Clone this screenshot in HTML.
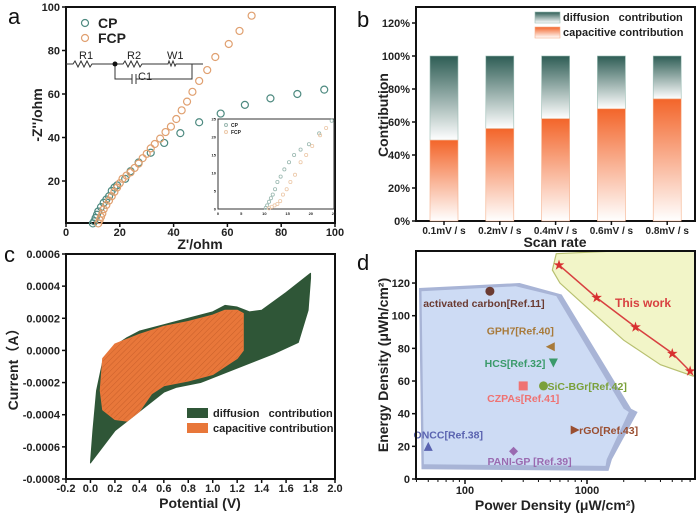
<!DOCTYPE html>
<html><head><meta charset="utf-8">
<style>
html,body{margin:0;padding:0;background:#fff;}
svg{display:block;font-family:"Liberation Sans",Arial,sans-serif;}
.tk{font-size:11px;font-weight:bold;fill:#222;}
.ttl{font-size:14px;font-weight:bold;fill:#222;}
.pl{font-size:22px;fill:#111;}
</style></head>
<body>
<svg id="fig" width="700" height="515" viewBox="0 0 700 515">
<defs>
<linearGradient id="gDiff" x1="0" y1="0" x2="0" y2="1"><stop offset="0" stop-color="#2e5d55"/><stop offset="1" stop-color="#ffffff"/></linearGradient>
<linearGradient id="gCap" x1="0" y1="0" x2="0" y2="1"><stop offset="0" stop-color="#f3652a"/><stop offset="1" stop-color="#ffffff"/></linearGradient>
<pattern id="hatch" width="4" height="4" patternUnits="userSpaceOnUse" patternTransform="rotate(45)"><rect width="4" height="4" fill="#e8773a"/><line x1="0" y1="0" x2="0" y2="4" stroke="#c9602a" stroke-width="1"/></pattern>
<clipPath id="clipD"><rect x="416" y="251" width="279" height="228"/></clipPath>
</defs>
<g id="pa"></g>
<g id="pb"></g>
<g id="pc"></g>
<g id="pd"></g>
</svg>
<script>
// ---------- Panel a data ----------
const cpX=[10,10.5,11,11.5,12,13,14,15,16,17,18,19,22,24,27,31.5,36.5,42.5,49.5,57.5,66.5,76,86,96];
const cpY=[0.5,1.5,3,4.5,6,8,10,11.5,13,15.5,17,18,21,24.5,28.5,33,37.5,42,47,51,55,58,60,62];
const fcpX=[12,12.5,13,13.5,14,15,16,17,18,19,20,21,22.5,24,25.5,27,28.5,30,31.5,33,35,37,39,41,43,45,47,49.5,52.5,55.5,60.5,64.5,69];
const fcpY=[0.5,2,3.5,5,7,9,11,13,15,17,19,21,22.5,24,26,28,30.5,32.5,35,37,39.5,42.5,45,48.5,52.5,56.5,61,66,71,77,83,89,96];
const aTicksX=[0,20,40,60,80,100];
const aTicksY=[20,40,60,80,100];
const insetCpX=[10.3,10.6,11,11.4,11.8,12.3,12.8,13.5,14.3,15.3,16.4,17.8,19.6,21.8,24.5];
const insetCpY=[0.3,1,2,3,4,5.5,7.5,9,11,13,15,16.5,18,21,24.5];
const insetFcpX=[11,11.6,12.2,12.8,13.4,14,14.8,15.6,16.6,17.8,19,20.3,22,23.3];
const insetFcpY=[0.2,0.6,1,1.4,2.2,4,5.5,7.5,9.5,13,15,17.5,20.5,22.5];
// ---------- Panel b data ----------
const bCats=["0.1mV / s","0.2mV / s","0.4mV / s","0.6mV / s","0.8mV / s"];
const bCap=[49,56,62,68,74];
const bTicks=[0,20,40,60,80,100,120];
// ---------- Panel c data ----------
const cvOuterV=[0,0.02,0.05,0.1,0.2,0.3,0.4,0.6,0.8,1.0,1.1,1.2,1.3,1.4,1.6,1.8,1.8,1.78,1.7,1.5,1.3,1.1,0.9,0.7,0.6,0.4,0.2,0];
const cvOuterI=[-7.0,-5,-2.5,-0.7,0.3,0.8,1.2,1.6,2.0,2.4,2.8,2.7,2.4,2.5,3.6,4.8,4.5,2.5,0.5,-0.2,-0.8,-1.4,-2.0,-2.3,-2.6,-3.8,-5.0,-7.0];
const cvCapV=[0.1,0.2,0.4,0.6,0.8,1.0,1.1,1.2,1.25,1.25,1.2,1.0,0.8,0.6,0.5,0.4,0.3,0.2,0.1,0.08,0.1];
const cvCapI=[-0.5,0.4,1.0,1.5,1.8,2.2,2.5,2.5,2.3,0,-0.5,-1.5,-1.9,-2.2,-2.7,-3.8,-4.4,-4.3,-3.7,-2.5,-0.5];
const cTicksX=[-0.2,0.0,0.2,0.4,0.6,0.8,1.0,1.2,1.4,1.6,1.8,2.0];
const cTicksY=[0.0006,0.0004,0.0002,0.0000,-0.0002,-0.0004,-0.0006,-0.0008];
// ---------- Panel d data ----------
const dNames=["activated carbon[Ref.11]","GPH7[Ref.40]","HCS[Ref.32]","CZPAs[Ref.41]","SiC-BGr[Ref.42]","ONCC[Ref.38]","PANI-GP [Ref.39]","rGO[Ref.43]"];
const dPower=[160,500,530,300,440,50,250,800];
const dEnergy=[115,81,71,57,57,20,17,30];
const dShapes=["circle","tri-left","tri-down","square","circle","tri-up","diamond","tri-right"];
const dColors=["#6b3b32","#a87a3a","#3a9a6a","#ef7272","#7aa03a","#5a63b0","#9a6ab0","#9a4e30"];
const twPower=[590,1200,2500,5000,7000];
const twEnergy=[131,111,93,77,66];
const dTicksY=[0,20,40,60,80,100,120];
const dTicksX=[100,1000];

const NS="http://www.w3.org/2000/svg";
function mk(parent,tag,attrs,name){const e=document.createElementNS(NS,tag);for(const k in attrs)e.setAttribute(k,attrs[k]);


parent.appendChild(e);return e;}
function txt(parent,x,y,s,cls,name,extra){const t=mk(parent,'text',Object.assign({x:x,y:y,class:cls},extra||{}),name);t.textContent=s;return t;}

// ===== Panel a =====
(function(){
const g=document.getElementById('pa');
const L=66,R=335,T=7,B=223;
const sx=v=>L+(v/100)*(R-L), sy=v=>224.5-v*2.175;
txt(g,8,24,'a','pl','panel-label-a');
mk(g,'rect',{x:L,y:T,width:R-L,height:B-T,fill:'none',stroke:'#111','stroke-width':2},'plot-frame-a');
aTicksX.forEach(v=>{mk(g,'line',{x1:sx(v),y1:B,x2:sx(v),y2:B+4,stroke:'#111','stroke-width':1.5},'x-tick');
 txt(g,sx(v),236,String(v),'tk','x-tick-label',{'text-anchor':'middle'});});
aTicksY.forEach(v=>{mk(g,'line',{x1:L-4,y1:sy(v),x2:L,y2:sy(v),stroke:'#111','stroke-width':1.5},'y-tick');
 txt(g,L-6,sy(v)+4,String(v),'tk','y-tick-label',{'text-anchor':'end'});});
txt(g,200,249,"Z'/ohm",'ttl','x-axis-title',{'text-anchor':'middle'});
txt(g,0,0,"-Z''/ohm",'ttl','y-axis-title',{'text-anchor':'middle',transform:'translate(42,115) rotate(-90)'});
cpX.forEach((x,i)=>mk(g,'circle',{cx:sx(x),cy:sy(cpY[i]),r:3.5,fill:'none',stroke:'#4e8a80','stroke-width':1.2},'cp-point'));
fcpX.forEach((x,i)=>mk(g,'circle',{cx:sx(fcpX[i]),cy:sy(fcpY[i]),r:3.5,fill:'none',stroke:'#e0a070','stroke-width':1.2},'fcp-point'));
mk(g,'circle',{cx:85,cy:23,r:3.5,fill:'none',stroke:'#4e8a80','stroke-width':1.2},'legend-cp-marker');
txt(g,98,28,'CP','ttl','legend-cp-label');
mk(g,'circle',{cx:85,cy:38,r:3.5,fill:'none',stroke:'#e0a070','stroke-width':1.2},'legend-fcp-marker');
txt(g,98,43,'FCP','ttl','legend-fcp-label');
const c=mk(g,'g',{},'equivalent-circuit');
mk(c,'path',{d:'M66 64 H73 l2 -3 l3 6 l3 -6 l3 6 l3 -6 l3 6 l2 -3 H115 H123 l2 -3 l3 6 l3 -6 l3 6 l3 -6 l3 6 l2 -3 H168 l1 -3 l2 5 l2 -5 l2 5 l1 -2 H203 M192 64 V79 H136 M132 79 H115 V64 M132 74 V84 M136 74 V84',fill:'none',stroke:'#333','stroke-width':1},'circuit-wires');
mk(c,'circle',{cx:115,cy:64,r:2.5,fill:'#111'},'circuit-node');
txt(c,79,59,'R1','tk','r1-label',{style:'font-weight:normal;font-size:11px'});
txt(c,127,59,'R2','tk','r2-label',{style:'font-weight:normal;font-size:11px'});
txt(c,167,59,'W1','tk','w1-label',{style:'font-weight:normal;font-size:11px'});
txt(c,138,80,'C1','tk','c1-label',{style:'font-weight:normal;font-size:11px'});
const iL=218,iR=334,iT=119,iB=209;
const ix=v=>iL+v/25*(iR-iL), iy=v=>iB-v/25*(iB-iT);
const ins=mk(g,'g',{},'inset-plot');
mk(ins,'rect',{x:iL,y:iT,width:iR-iL,height:iB-iT,fill:'#fff',stroke:'#333','stroke-width':1},'inset-frame');
[0,5,10,15,20,25].forEach(v=>{txt(ins,ix(v),iB+6,String(v),'tk','inset-x-tick',{'text-anchor':'middle',style:'font-size:4px'});
 txt(ins,iL-2,iy(v)+1.5,String(v),'tk','inset-y-tick',{'text-anchor':'end',style:'font-size:4px'});});
insetCpX.forEach((x,i)=>mk(ins,'circle',{cx:ix(x),cy:iy(insetCpY[i]),r:1.6,fill:'none',stroke:'#9ab8b0','stroke-width':0.8},'inset-cp-point'));
insetFcpX.forEach((x,i)=>mk(ins,'circle',{cx:ix(x),cy:iy(insetFcpY[i]),r:1.6,fill:'none',stroke:'#ecc8a8','stroke-width':0.8},'inset-fcp-point'));
mk(ins,'circle',{cx:226,cy:125,r:1.5,fill:'none',stroke:'#9ab8b0'},'inset-legend-cp');
txt(ins,231,127,'CP','tk','inset-legend-cp-label',{style:'font-size:5px'});
mk(ins,'circle',{cx:226,cy:132,r:1.5,fill:'none',stroke:'#ecc8a8'},'inset-legend-fcp');
txt(ins,231,134,'FCP','tk','inset-legend-fcp-label',{style:'font-size:5px'});
})();

// ===== Panel b =====
(function(){
const g=document.getElementById('pb');
const L=416,R=695,T=7,B=221;
const sy=v=>B-v*1.65;
const bw=28;
const cx=i=>444+i*55.8;
txt(g,357,27,'b','pl','panel-label-b');
mk(g,'rect',{x:L,y:T,width:R-L,height:B-T,fill:'none',stroke:'#111','stroke-width':2},'plot-frame-b');
bTicks.forEach(v=>{mk(g,'line',{x1:L-4,y1:sy(v),x2:L,y2:sy(v),stroke:'#111','stroke-width':1.5},'y-tick');
 txt(g,L-6,sy(v)+4,v+'%','tk','y-tick-label',{'text-anchor':'end'});});
bCats.forEach((c,i)=>{
 mk(g,'rect',{x:cx(i)-bw/2,y:sy(100),width:bw,height:sy(bCap[i])-sy(100),fill:'url(#gDiff)',stroke:'#9bbdb5','stroke-width':0.6},'bar-diffusion-'+i);
 mk(g,'rect',{x:cx(i)-bw/2,y:sy(bCap[i]),width:bw,height:B-sy(bCap[i]),fill:'url(#gCap)',stroke:'#f5b08a','stroke-width':0.6},'bar-capacitive-'+i);
 mk(g,'line',{x1:cx(i),y1:B,x2:cx(i),y2:B+4,stroke:'#111','stroke-width':1.5},'x-tick');
 txt(g,cx(i),234,c,'tk','x-tick-label',{'text-anchor':'middle',style:'font-size:10px'});
});
txt(g,555,247,'Scan rate','ttl','x-axis-title',{'text-anchor':'middle'});
txt(g,0,0,'Contribution','ttl','y-axis-title',{'text-anchor':'middle',transform:'translate(388,115) rotate(-90)'});
mk(g,'rect',{x:535,y:12,width:25,height:11,fill:'url(#gDiff)',stroke:'#9bbdb5','stroke-width':0.6},'legend-diffusion-swatch');
txt(g,563,21,'diffusion   contribution','tk','legend-diffusion-label',{style:'font-size:11px;white-space:pre','xml:space':'preserve'});
mk(g,'rect',{x:535,y:27,width:25,height:11,fill:'url(#gCap)',stroke:'#f5b08a','stroke-width':0.6},'legend-capacitive-swatch');
txt(g,563,36,'capacitive contribution','tk','legend-capacitive-label',{style:'font-size:11px'});
})();

// ===== Panel c =====
(function(){
const g=document.getElementById('pc');
const L=66,R=335,T=254,B=479;
const sx=v=>L+(v+0.2)/2.2*(R-L), sy=v=>T+(0.0006-v)/0.0014*(B-T);
txt(g,4,262,'c','pl','panel-label-c');
const pts=(V,I)=>V.map((v,i)=>sx(v)+','+sy(I[i]*1e-4)).join(' ');
mk(g,'polygon',{points:pts(cvOuterV,cvOuterI),fill:'#2f5637',stroke:'#2f5637','stroke-linejoin':'round'},'diffusion-area');
mk(g,'polygon',{points:pts(cvCapV,cvCapI),fill:'url(#hatch)',stroke:'#e8773a','stroke-linejoin':'round'},'capacitive-area');
mk(g,'rect',{x:L,y:T,width:R-L,height:B-T,fill:'none',stroke:'#111','stroke-width':2},'plot-frame-c');
cTicksX.forEach(v=>{mk(g,'line',{x1:sx(v),y1:B,x2:sx(v),y2:B+4,stroke:'#111','stroke-width':1.5},'x-tick');
 txt(g,sx(v),492,v.toFixed(1),'tk','x-tick-label',{'text-anchor':'middle'});});
cTicksY.forEach(v=>{mk(g,'line',{x1:L-4,y1:sy(v),x2:L,y2:sy(v),stroke:'#111','stroke-width':1.5},'y-tick');
 txt(g,L-6,sy(v)+4,v.toFixed(4),'tk','y-tick-label',{'text-anchor':'end'});});
txt(g,200,508,'Potential (V)','ttl','x-axis-title',{'text-anchor':'middle'});
txt(g,0,0,'Current（A）','ttl','y-axis-title',{'text-anchor':'middle',transform:'translate(18,366) rotate(-90)',style:'font-family:"Liberation Sans","Noto Sans CJK SC",sans-serif'});
mk(g,'rect',{x:187,y:408,width:21,height:10,fill:'#2f5637'},'legend-diffusion-swatch');
txt(g,213,417,'diffusion   contribution','tk','legend-diffusion-label',{style:'font-size:11px;white-space:pre','xml:space':'preserve'});
mk(g,'rect',{x:187,y:423,width:21,height:10,fill:'#e8773a'},'legend-capacitive-swatch');
txt(g,213,432,'capacitive contribution','tk','legend-capacitive-label',{style:'font-size:11px'});
})();

// ===== Panel d =====
(function(){
const g=document.getElementById('pd');
const L=416,R=695,T=251,B=479;
const sx=v=>465+(Math.log10(v)-2)*122, sy=v=>B-v*1.633;
txt(g,357,270,'d','pl','panel-label-d');
const poly=(P,E)=>P.map((p,i)=>sx(p)+','+sy(E[i])).join(' ');
const cg=mk(g,'g',{'clip-path':'url(#clipD)'},'background-regions');
mk(cg,'polygon',{points:poly([42,280,620,2300,2600,1600,1500,44],[117,120,113,43,41,12,5,6]),fill:'#a8b4d6'},'comparison-region-edge');
mk(cg,'polygon',{points:poly([44,260,560,2000,2200,1450,1420,46],[115,118,112,43,41,12,8,9]),fill:'#cddbf4'},'comparison-region');
mk(cg,'polygon',{points:poly([520,560,9000,9000,7400,4000,2000,1000,600,520],[128,138,142,65,63,70,85,105,120,128]),fill:'#f2f5c8',stroke:'#b8c070','stroke-width':1.2},'this-work-region');
mk(g,'polyline',{points:poly(twPower,twEnergy),fill:'none',stroke:'#d84040','stroke-width':1.5},'this-work-line');
twPower.forEach((p,i)=>txt(g,sx(p),sy(twEnergy[i])+4,'★','tk','this-work-point',{'text-anchor':'middle',style:'fill:#d83030;font-size:12px'}));
txt(g,615,307,'This work','tk','this-work-label',{style:'fill:#d84040;font-size:12px'});
function marker(s,x,y,c,name){
 const r=4.5;let d;
 if(s==='circle'){mk(g,'circle',{cx:x,cy:y,r:r,fill:c},name);return;}
 if(s==='square'){mk(g,'rect',{x:x-r,y:y-r,width:2*r,height:2*r,fill:c},name);return;}
 if(s==='tri-up')d=`M${x} ${y-r} L${x+r} ${y+r} L${x-r} ${y+r}Z`;
 if(s==='tri-down')d=`M${x-r} ${y-r} L${x+r} ${y-r} L${x} ${y+r}Z`;
 if(s==='tri-left')d=`M${x-r} ${y} L${x+r} ${y-r} L${x+r} ${y+r}Z`;
 if(s==='tri-right')d=`M${x+r} ${y} L${x-r} ${y-r} L${x-r} ${y+r}Z`;
 if(s==='diamond')d=`M${x} ${y-r} L${x+r} ${y} L${x} ${y+r} L${x-r} ${y}Z`;
 mk(g,'path',{d:d,fill:c},name);
}
const lblDx=[-6,-30,-8,0,4,20,16,4], lblDy=[16,-12,4,16,4,-8,14,4];
const anchors=['middle','middle','end','middle','start','middle','middle','start'];
dNames.forEach((n,i)=>{const x=sx(dPower[i]),y=sy(dEnergy[i]);
 marker(dShapes[i],x,y,dColors[i],'marker-'+i);
 txt(g,x+lblDx[i],y+lblDy[i],n,'tk','point-label-'+i,{'text-anchor':anchors[i],style:'fill:'+dColors[i]+';font-size:10.5px'});});
mk(g,'rect',{x:L,y:T,width:R-L,height:B-T,fill:'none',stroke:'#111','stroke-width':2},'plot-frame-d');
dTicksY.forEach(v=>{mk(g,'line',{x1:L-4,y1:sy(v),x2:L,y2:sy(v),stroke:'#111','stroke-width':1.5},'y-tick');
 txt(g,L-6,sy(v)+4,String(v),'tk','y-tick-label',{'text-anchor':'end'});});
dTicksX.forEach(v=>{mk(g,'line',{x1:sx(v),y1:B,x2:sx(v),y2:B+5,stroke:'#111','stroke-width':1.5},'x-tick');
 txt(g,sx(v),494,String(v),'tk','x-tick-label',{'text-anchor':'middle'});});
[40,50,60,70,80,90,200,300,400,500,600,700,800,900,2000,3000,4000,5000,6000,7000].forEach(v=>mk(g,'line',{x1:sx(v),y1:B,x2:sx(v),y2:B+3,stroke:'#111','stroke-width':1},'x-minor-tick'));
txt(g,555,510,'Power Density (μW/cm²)','ttl','x-axis-title',{'text-anchor':'middle'});
txt(g,0,0,'Energy Density (μWh/cm²)','ttl','y-axis-title',{'text-anchor':'middle',transform:'translate(388,365) rotate(-90)'});
})();
</script>
</body></html>
